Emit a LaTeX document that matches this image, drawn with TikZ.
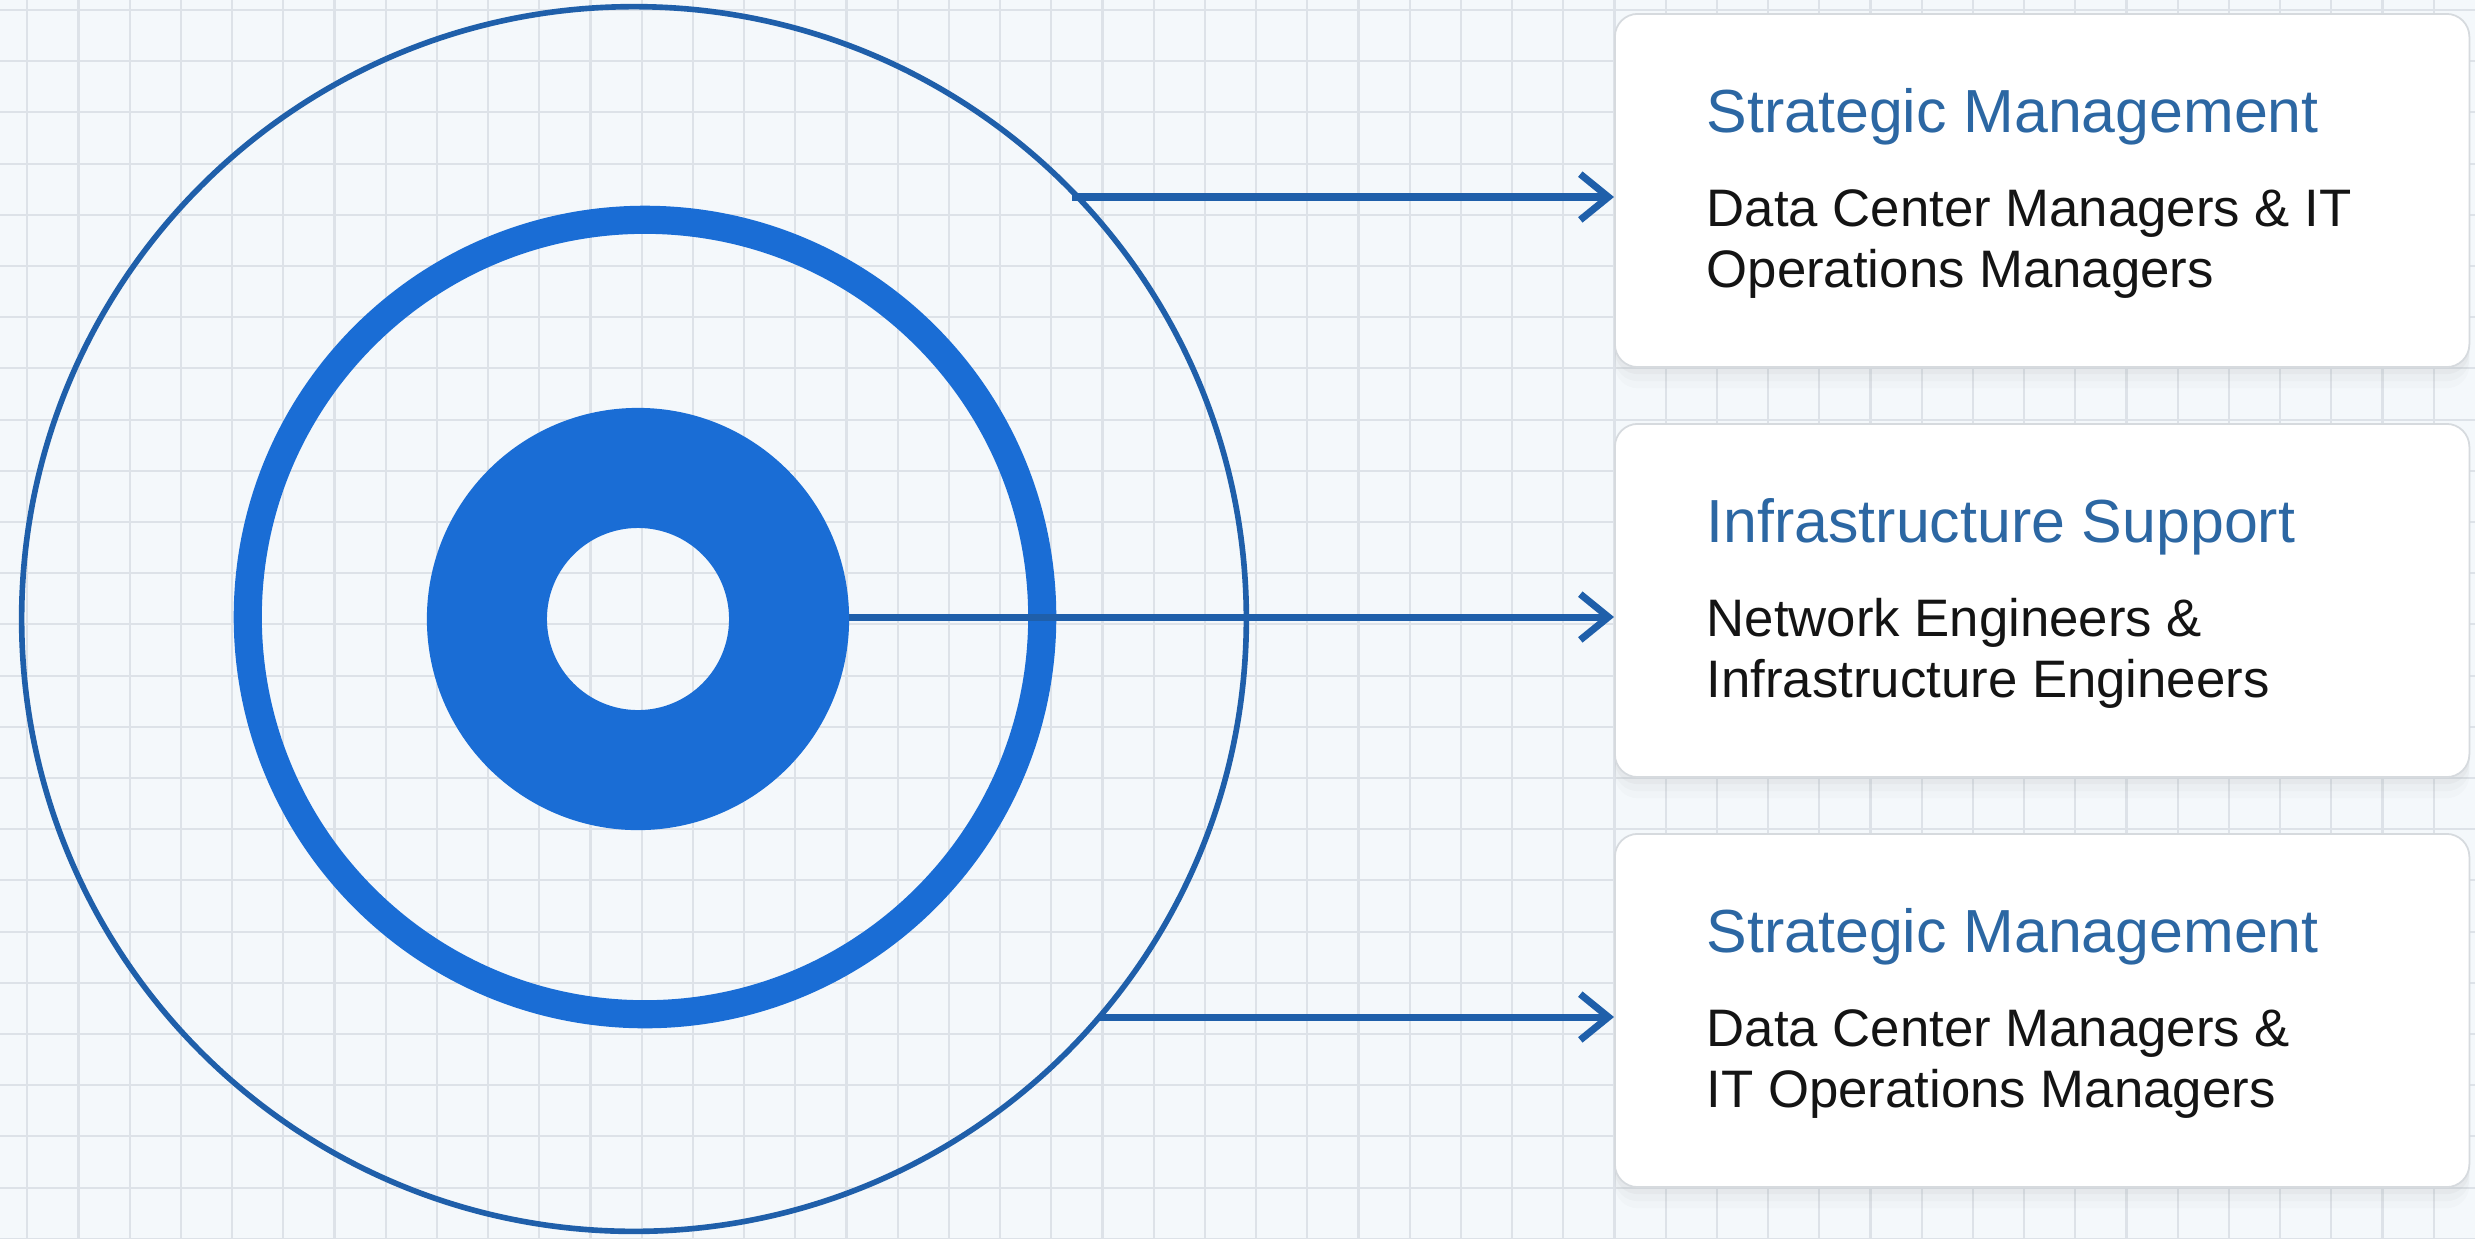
\documentclass[tikz,border=0pt]{standalone}
\usepackage{fontspec}
\setmainfont{Liberation Sans}
\usetikzlibrary{arrows.meta,shadows}
\definecolor{bgc}{HTML}{F4F8FB}
\definecolor{gridc}{HTML}{DDE2E8}
\definecolor{ringdark}{HTML}{1F5FAA}
\definecolor{ringbright}{HTML}{1A6DD5}
\definecolor{titleblue}{HTML}{2C67A3}
\definecolor{boxborder}{HTML}{D6DADE}
\definecolor{bodyc}{HTML}{141414}
\begin{document}
\begin{tikzpicture}[x=0.01cm,y=-0.01cm,
  gridline/.style={draw=gridc, line width=0.6pt},
  infobox/.style={draw=boxborder, line width=0.5pt, fill=white, rounded corners=6.5pt,
    minimum width=8.54cm, minimum height=3.53cm, anchor=north west, inner sep=0pt,
    drop shadow={shadow xshift=0pt, shadow yshift=-2pt, opacity=0.05},
    drop shadow={shadow xshift=0pt, shadow yshift=-4pt, opacity=0.04},
    drop shadow={shadow xshift=0pt, shadow yshift=-6pt, opacity=0.03}},
  ttl/.style={anchor=base west, inner sep=0pt, text=titleblue, font=\fontsize{17.3}{20}\selectfont},
  bdy/.style={anchor=base west, inner sep=0pt, text=bodyc, font=\fontsize{15}{17}\selectfont},
  conn/.style={draw=ringdark, line width=2pt, -{Straight Barb[length=8pt,width=13pt]}}]
\fill[bgc] (0,0) rectangle (2475,1238);
\useasboundingbox (0,0) rectangle (2475,1238);
% grid
\foreach \i in {0,...,48} \draw[gridline] ({27.3+51.2*\i},0) -- ({27.3+51.2*\i},1238);
\foreach \j in {0,...,24} \draw[gridline] (0,{10+51.2*\j}) -- (2475,{10+51.2*\j});
% target rings
\draw[ringdark, line width=1.6pt] (634,619) circle[radius=6.12cm];
\draw[ringbright, line width=8pt] (645,617) circle[radius=3.97cm];
\fill[ringbright, even odd rule] (638,619) circle[radius=2.11cm] (638,619) circle[radius=0.91cm];
% arrow start points
\coordinate (s1) at (1072,197);
\coordinate (s2) at (849,617);
\coordinate (s3) at (1100,1017);
% boxes
\node[infobox] (b1) at (1614,13) {};
\node[infobox] (b2) at (1614,423) {};
\node[infobox] (b3) at (1614,833) {};
% texts
\node[ttl] (t1) at (1706,132) {Strategic Management};
\node[bdy] (d1a) at (1706,226) {Data Center Managers \& IT};
\node[bdy] (d1b) at (1706,287) {Operations Managers};
\node[ttl] (t2) at (1706,542) {Infrastructure Support};
\node[bdy] (d2a) at (1706,636) {Network Engineers \&};
\node[bdy] (d2b) at (1706,697) {Infrastructure Engineers};
\node[ttl] (t3) at (1706,952) {Strategic Management};
\node[bdy] (d3a) at (1706,1046) {Data Center Managers \&};
\node[bdy] (d3b) at (1706,1107) {IT Operations Managers};
% connectors
\draw[conn] (s1) -- (s1 -| b1.west);
\draw[conn] (s2) -- (s2 -| b2.west);
\draw[conn] (s3) -- (s3 -| b3.west);
\end{tikzpicture}
\end{document}
